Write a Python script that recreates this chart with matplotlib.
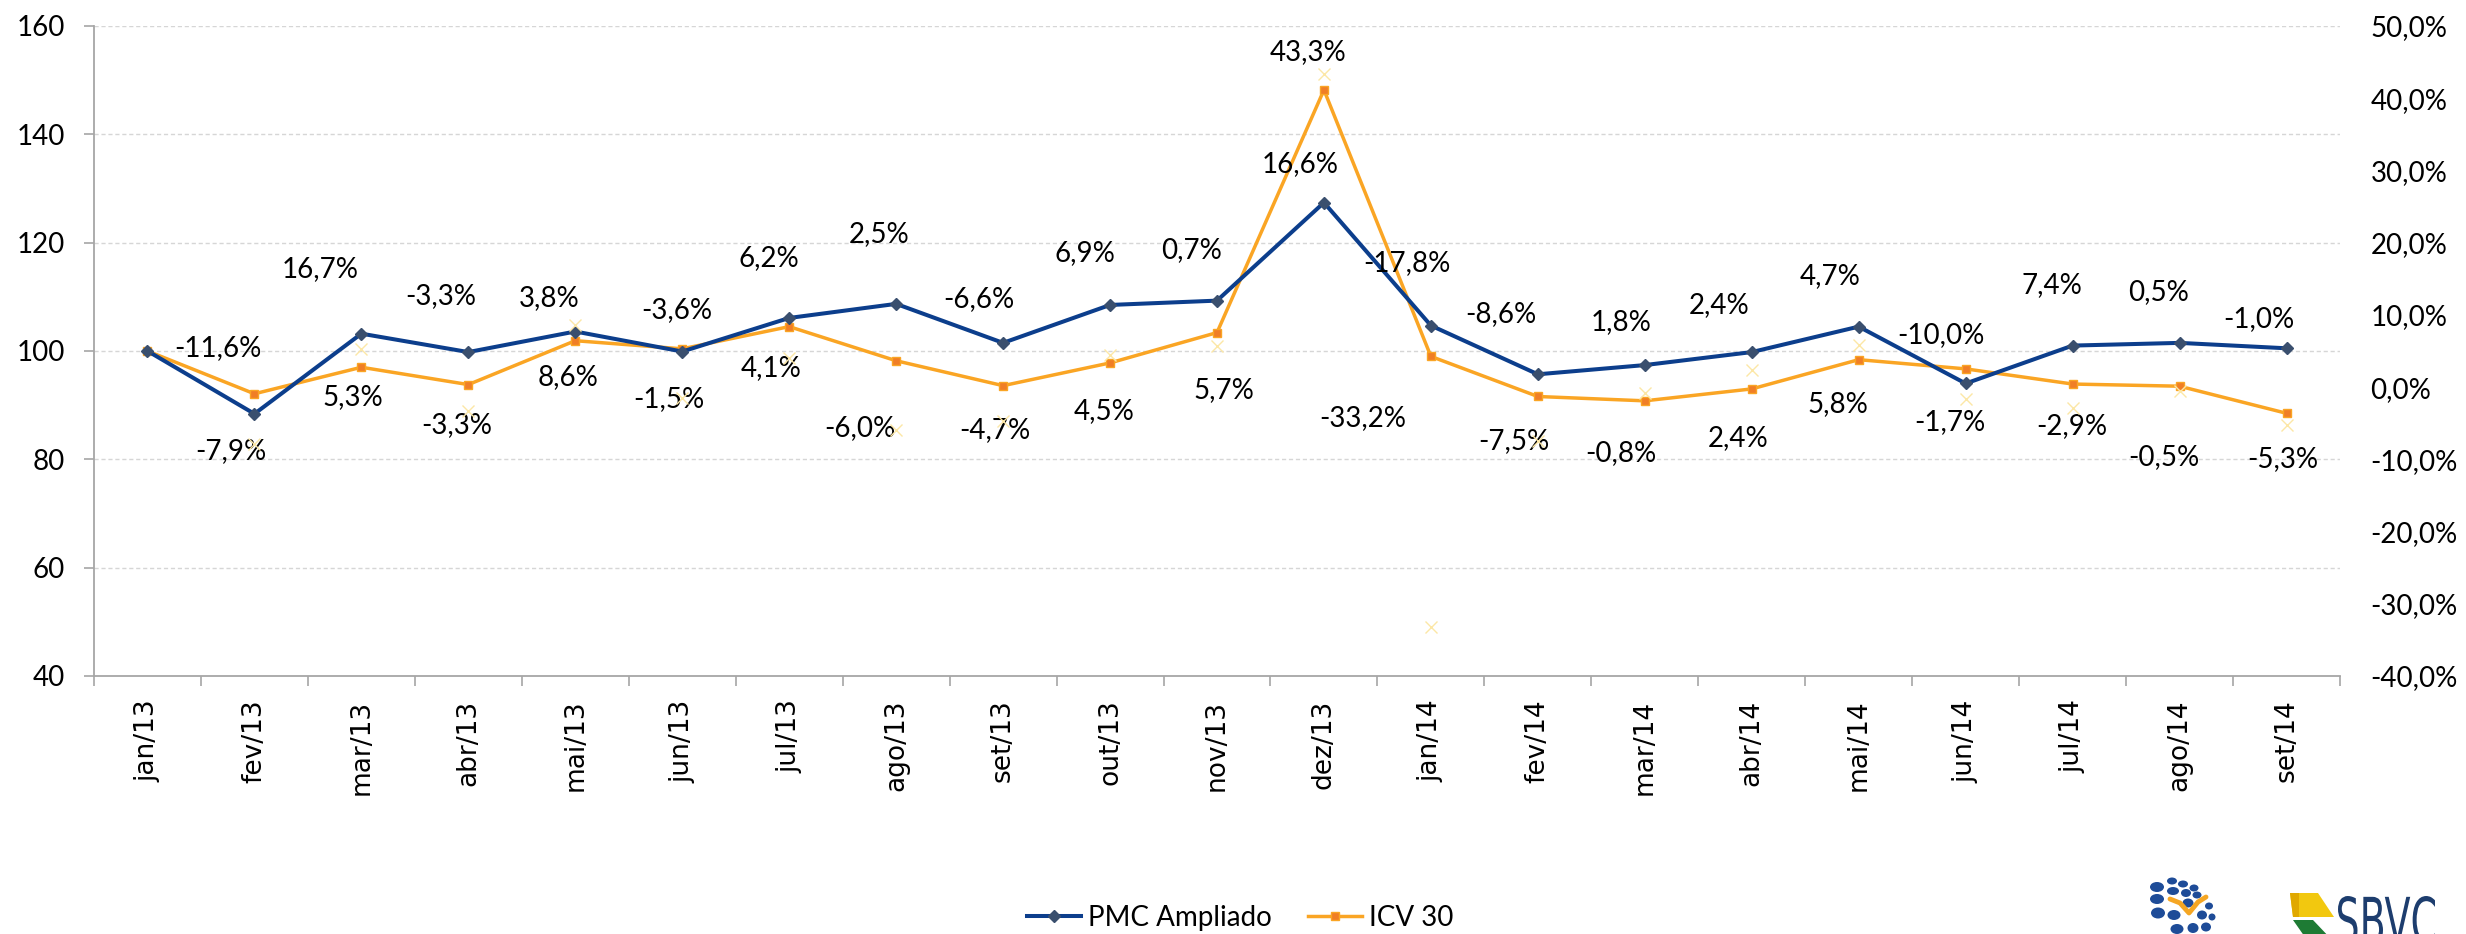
import matplotlib
matplotlib.use("Agg")
import matplotlib.pyplot as plt
from matplotlib.patches import Ellipse, Polygon, PathPatch
from matplotlib.textpath import TextPath
from matplotlib.font_manager import FontProperties
from matplotlib.transforms import Affine2D
from matplotlib.lines import Line2D
import numpy as np

# ---------------- data ----------------
categories = ["jan/13", "fev/13", "mar/13", "abr/13", "mai/13", "jun/13", "jul/13",
              "ago/13", "set/13", "out/13", "nov/13", "dez/13", "jan/14", "fev/14",
              "mar/14", "abr/14", "mai/14", "jun/14", "jul/14", "ago/14", "set/14"]
pmc_index = [100, 88.4, 103.2, 99.8, 103.6, 99.9, 106.1, 108.7, 101.5, 108.5, 109.3,
             127.4, 104.7, 95.7, 97.4, 99.8, 104.5, 94.0, 101.0, 101.5, 100.5]
icv_index = [100, 92.1, 97.0, 93.8, 101.9, 100.4, 104.5, 98.2, 93.6, 97.8, 103.4,
             148.2, 99.0, 91.6, 90.8, 93.0, 98.4, 96.7, 93.9, 93.5, 88.5]
pmc_pct = [None, -11.6, 16.7, -3.3, 3.8, -3.6, 6.2, 2.5, -6.6, 6.9, 0.7,
           16.6, -17.8, -8.6, 1.8, 2.4, 4.7, -10.0, 7.4, 0.5, -1.0]
icv_pct = [None, -7.9, 5.3, -3.3, 8.6, -1.5, 4.1, -6.0, -4.7, 4.5, 5.7,
           43.3, -33.2, -7.5, -0.8, 2.4, 5.8, -1.7, -2.9, -0.5, -5.3]
left_ticks = [40, 60, 80, 100, 120, 140, 160]
right_ticks = [-40, -30, -20, -10, 0, 10, 20, 30, 40, 50]
series_names = ["PMC Ampliado", "ICV 30"]

# ---------------- layout: label offsets from their point (pixels, dx, dy-up) -------
pmc_label_off = [None, (-36, 66), (-41, 65), (-28, 56), (-26, 33), (-5, 41), (-20, 60),
                 (-17, 70), (-24, 44), (-25, 52), (-25, 51), (-24, 39), (-24, 62),
                 (-37, 60), (-24, 43), (-33, 47), (-29, 51), (-25, 48), (-21, 61),
                 (-21, 51), (-28, 29)]
icv_label_off = [None, (-24, -57), (-9, -30), (-12, -40), (-7, -36), (-13, -50),
                 (-18, -41), (-36, -67), (-8, -44), (-6, -48), (7, -57), (-16, 38),
                 (-68, -62), (-24, -45), (-24, -52), (-14, -49), (-21, -44), (-16, -53),
                 (-1, -42), (-16, -71), (-4, -46)]

# ---------------- style ----------------
BLUE = "#0C3E8C"
BLUE_MK = "#3A4F6E"
ORANGE = "#FAA524"
ORANGE_MK = "#F07E26"
FAINT = "#FCE7A6"
GRID = "#D6D6D6"
AXC = "#A6A6A6"
LFONT = "Lato"

W, H, DPI = 2466, 934, 100
PT = 72.0 / DPI
fig = plt.figure(figsize=(W / DPI, H / DPI), dpi=DPI)
fig.patch.set_facecolor("white")

ax = fig.add_axes([94 / W, 1 - 676 / H, (2340 - 94) / W, (676 - 26) / H])
ax.set_facecolor("none")
ax2 = ax.twinx()

x = np.arange(len(categories))

ax.plot(x, pmc_index, color=BLUE, lw=2.9, marker="D", ms=6.5,
        mfc=BLUE_MK, mec=BLUE_MK, zorder=5, label=series_names[0])
ax.plot(x, icv_index, color=ORANGE, lw=2.5, marker="s", ms=5.8,
        mfc=ORANGE_MK, mec=ORANGE, mew=1, zorder=4, label=series_names[1])

# faint helper markers (ICV % on secondary axis)
icv_x = [i for i, v in enumerate(icv_pct) if v is not None]
icv_y = [v for v in icv_pct if v is not None]
ax2.plot(icv_x, icv_y, ls="none", marker="x", ms=9, mew=1, color=FAINT, zorder=3)

ax.set_xlim(-0.5, len(categories) - 0.5)
ax.set_ylim(40, 160)
ax2.set_ylim(-40, 50)

ax.set_yticks(left_ticks)
ax.set_yticklabels([str(t) for t in left_ticks], fontfamily=LFONT, fontsize=20)
ax2.set_yticks(right_ticks)
ax2.set_yticklabels([f"{t:.1f}%".replace(".", ",") for t in right_ticks],
                    fontfamily=LFONT, fontsize=20)

ax.set_xticks(x)
ax.set_xticklabels(categories, rotation=90, fontfamily="DejaVu Sans", fontsize=19)
ax.set_xticks(np.arange(-0.5, len(categories), 1.0), minor=True)
ax.tick_params(axis="x", which="major", length=0, pad=17)
ax.tick_params(axis="x", which="minor", length=7, width=1.2, color=AXC, direction="out")
ax.tick_params(axis="y", which="major", length=7, width=1.2, color=AXC, pad=14)
ax2.tick_params(axis="y", length=0, pad=22)

for s in ["top", "right"]:
    ax.spines[s].set_visible(False)
for s in ["top", "right", "left", "bottom"]:
    ax2.spines[s].set_visible(False)
ax.spines["left"].set_color(AXC)
ax.spines["bottom"].set_color(AXC)
ax.spines["left"].set_linewidth(1.3)
ax.spines["bottom"].set_linewidth(1.3)

for t in left_ticks[1:]:
    ax.axhline(t, color=GRID, lw=1.0, ls=(0, (3, 2)), zorder=1)

# data labels
for i in range(1, len(categories)):
    dx, dy = pmc_label_off[i]
    ax.annotate(f"{pmc_pct[i]:.1f}%".replace(".", ","), (x[i], pmc_index[i]),
                xytext=(dx * PT, dy * PT), textcoords="offset points",
                ha="center", va="center", fontfamily=LFONT, fontsize=20,
                color="black", zorder=6)
    dx, dy = icv_label_off[i]
    ax.annotate(f"{icv_pct[i]:.1f}%".replace(".", ","), (x[i], icv_index[i]),
                xytext=(dx * PT, dy * PT), textcoords="offset points",
                ha="center", va="center", fontfamily=LFONT, fontsize=20,
                color="black", zorder=6)

# legend
h1 = Line2D([], [], color=BLUE, lw=2.9, marker="D", ms=6.5, mfc=BLUE_MK, mec=BLUE_MK)
h2 = Line2D([], [], color=ORANGE, lw=2.5, marker="s", ms=5.8, mfc=ORANGE_MK, mec=ORANGE)
fig.legend([h1, h2], series_names, loc="center", bbox_to_anchor=(0.503, 0.017),
           ncol=2, frameon=False, prop={"family": LFONT, "size": 20},
           handlelength=1.95, handletextpad=0.25, columnspacing=1.3)

# ---------------- logos (decoration, pixel coordinates) ----------------
ov = fig.add_axes([0, 0, 1, 1])
ov.set_xlim(0, W)
ov.set_ylim(H, 0)
ov.axis("off")
ov.set_zorder(-1)

dots = [(2157, 887, 7, 5), (2172, 881, 5, 3.5), (2183, 884, 5, 3.5), (2194, 888, 4.5, 3.5),
        (2157, 899, 7, 5), (2173, 891, 6, 4), (2186, 893, 5, 4), (2197, 895, 4.5, 3.5),
        (2158, 913, 7, 5.5), (2174, 915, 6.5, 5), (2188, 903, 5.5, 4.5), (2202, 915, 5, 4.5),
        (2209, 906, 4, 3.5), (2212, 917, 3.5, 3.5), (2177, 929, 6.5, 5), (2193, 928, 5.5, 5),
        (2206, 927, 5, 4.5)]
for (cx, cy, w, h) in dots:
    ov.add_patch(Ellipse((cx, cy), w * 2, h * 2, color="#1E4C98", lw=0))
ov.plot([2170, 2180, 2189, 2198, 2206], [899, 903, 913, 902, 897], color="#F5A623",
        lw=3.5, solid_capstyle="round")

ov.add_patch(Polygon([(2290, 893), (2318, 893), (2334, 917), (2293, 917)],
                     closed=True, color="#F2C80F", lw=0))
ov.add_patch(Polygon([(2290, 893), (2299, 893), (2299, 917), (2293, 917)],
                     closed=True, color="#E0A800", lw=0))
ov.add_patch(Polygon([(2293, 920), (2313, 920), (2332, 940), (2307, 940)],
                     closed=True, color="#1E7B34", lw=0))

tp = TextPath((0, 0), "SBVC", size=100, prop=FontProperties(family="DejaVu Sans"))
ext = tp.get_extents()
sx = 97 / ext.width
sy = 48 / ext.height
tr = Affine2D().translate(-ext.x0, -ext.y0).scale(sx, -sy).translate(2338, 944)
ov.add_patch(PathPatch(tr.transform_path(tp), color="#1D3D6E", lw=0))

fig.savefig("out.png", dpi=DPI, facecolor="white")
